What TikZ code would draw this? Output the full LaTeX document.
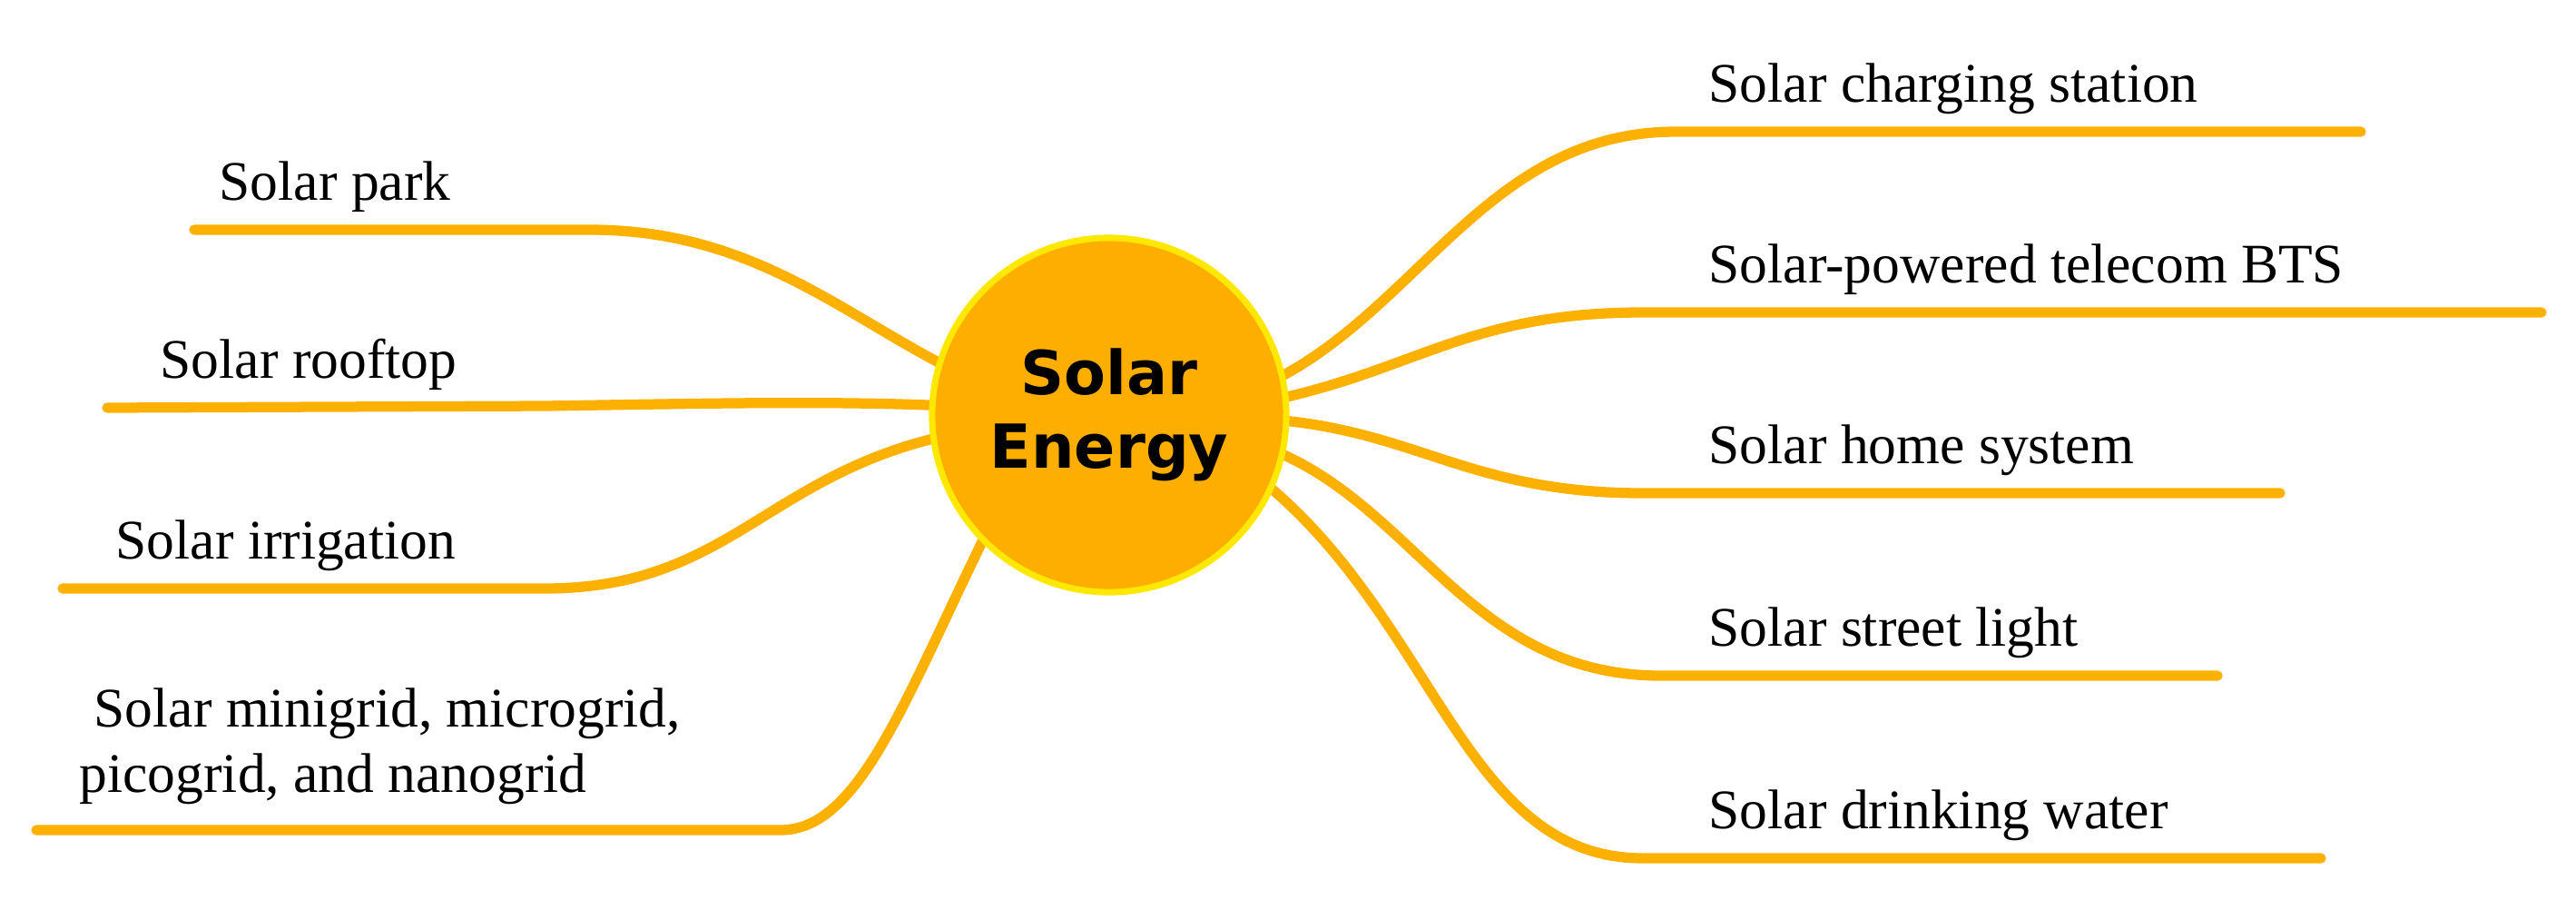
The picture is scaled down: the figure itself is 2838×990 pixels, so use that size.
\documentclass[tikz,border=0pt]{standalone}
\usepackage{fontspec}
\setmainfont{Liberation Serif}
\newfontfamily\titlefont{DejaVu Sans}
\definecolor{br}{HTML}{FCB000}
\definecolor{sun}{HTML}{FDAE00}
\definecolor{rim}{HTML}{FFE800}
\begin{document}
\begin{tikzpicture}[x=0.01cm,y=-0.01cm,
  lab/.style={anchor=base west,inner sep=0pt,font=\fontsize{17.5}{21}\selectfont},
  branch/.style={draw=br,line width=3.2pt,line cap=round}]
\useasboundingbox (0,0) rectangle (2838,990);
% connectors
\coordinate (pA) at (214,253);  \coordinate (pB) at (650,253);
\coordinate (rA) at (118,449);
\coordinate (iA) at (69,648);   \coordinate (iB) at (600,648);
\coordinate (mA) at (40,914);   \coordinate (mB) at (860,914);
\coordinate (c1A) at (1846,145); \coordinate (c1B) at (2601,145);
\coordinate (c2A) at (1810,344); \coordinate (c2B) at (2800,344);
\coordinate (c3A) at (1810,543); \coordinate (c3B) at (2512,543);
\coordinate (c4A) at (1830,744); \coordinate (c4B) at (2443,744);
\coordinate (c5A) at (1810,945); \coordinate (c5B) at (2557,945);
\draw[branch] (pA) -- (pB) .. controls (850,253) and (950,370) .. (1100,430);
\draw[branch] (rA) -- (600,447) .. controls (800,444) and (950,440) .. (1100,450);
\draw[branch] (iA) -- (iB) .. controls (820,648) and (850,500) .. (1100,470);
\draw[branch] (mA) -- (mB) .. controls (950,914) and (1000,760) .. (1100,560);
\draw[branch] (c1B) -- (c1A) .. controls (1620,145) and (1550,380) .. (1350,440);
\draw[branch] (c2B) -- (c2A) .. controls (1600,344) and (1550,420) .. (1350,450);
\draw[branch] (c3B) -- (c3A) .. controls (1600,543) and (1550,460) .. (1350,460);
\draw[branch] (c4B) -- (c4A) .. controls (1600,744) and (1550,520) .. (1350,480);
\draw[branch] (c5B) -- (c5A) .. controls (1600,945) and (1580,650) .. (1350,500);
% centre
\node[circle,minimum size=3.9cm,inner sep=0pt,fill=sun,draw=rim,line width=2pt,
  font=\titlefont\bfseries\fontsize{19}{23}\selectfont,align=center] (c) at (1222,457) {Solar\\Energy};
% labels
\node[lab] (park) at (241,220) {Solar park};
\node[lab] (roof) at (176,416) {Solar rooftop};
\node[lab] (irr) at (127,615) {Solar irrigation};
\node[lab] (mini1) at (103,800) {Solar minigrid, microgrid,};
\node[lab] (mini2) at (87,872) {picogrid, and nanogrid};
\node[lab] (r1) at (1882,112) {Solar charging station};
\node[lab] (r2) at (1882,311) {Solar-powered telecom BTS};
\node[lab] (r3) at (1882,510) {Solar home system};
\node[lab] (r4) at (1882,711) {Solar street light};
\node[lab] (r5) at (1882,912) {Solar drinking water};
\end{tikzpicture}
\end{document}
